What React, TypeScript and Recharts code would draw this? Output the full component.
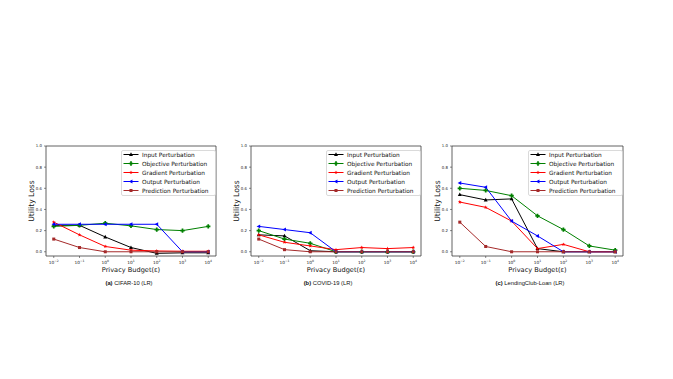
import React from "react";
import { LineChart, Line, XAxis, YAxis, ReferenceArea } from "recharts";

// privacy budgets on the x axis
const EPSILON = [0.01, 0.1, 1, 10, 100, 1000, 10000];
const Y_TICKS = [0, 0.2, 0.4, 0.6, 0.8, 1.0];
const X_DOMAIN = [0.005, 20000];
const Y_DOMAIN = [-0.04, 1.0];

// (a) CIFAR-10 (LR)
const cifarInput = [0.25, 0.25, 0.14, 0.04, -0.015, -0.01, -0.01];
const cifarObjective = [0.24, 0.25, 0.27, 0.245, 0.21, 0.2, 0.24];
const cifarGradient = [0.28, 0.16, 0.05, 0.015, 0.008, 0.005, 0.005];
const cifarOutput = [0.26, 0.26, 0.26, 0.26, 0.26, 0.0, 0.0];
const cifarPrediction = [0.12, 0.04, 0.0, 0.0, 0.0, 0.0, 0.0];

// (b) COVID-19 (LR)
const covidInput = [0.16, 0.15, 0.01, 0.0, 0.0, 0.0, 0.0];
const covidObjective = [0.2, 0.12, 0.08, 0.0, 0.0, 0.0, 0.0];
const covidGradient = [0.16, 0.09, 0.055, 0.02, 0.04, 0.03, 0.04];
const covidOutput = [0.24, 0.21, 0.18, 0.0, 0.0, 0.0, 0.0];
const covidPrediction = [0.12, 0.02, 0.0, 0.0, 0.0, 0.0, 0.0];

// (c) LendingClub-Loan (LR)
const loanInput = [0.54, 0.49, 0.5, 0.03, 0.0, 0.0, 0.0];
const loanObjective = [0.6, 0.58, 0.53, 0.34, 0.21, 0.055, 0.015];
const loanGradient = [0.47, 0.42, 0.29, 0.03, 0.07, 0.0, 0.0];
const loanOutput = [0.65, 0.61, 0.29, 0.15, 0.0, 0.0, 0.0];
const loanPrediction = [0.28, 0.05, 0.0, 0.0, 0.0, 0.0, 0.0];

const SERIES = [
  { key: "input", name: "Input Perturbation", color: "#000000", shape: "tri" },
  { key: "objective", name: "Objective Perturbation", color: "#008000", shape: "plus" },
  { key: "gradient", name: "Gradient Perturbation", color: "#ff0000", shape: "star" },
  { key: "output", name: "Output Perturbation", color: "#0000ff", shape: "left" },
  { key: "prediction", name: "Prediction Perturbation", color: "#a52a2a", shape: "square" },
];

function buildRows(input: number[], objective: number[], gradient: number[], output: number[], prediction: number[]) {
  return EPSILON.map((eps, i) => ({
    eps,
    input: input[i],
    objective: objective[i],
    gradient: gradient[i],
    output: output[i],
    prediction: prediction[i],
  }));
}

const FONT = "'DejaVu Sans', sans-serif";
const SPINE = "#3a3a3a";

function Marker({ cx, cy, shape, color, s = 3.6 }: any) {
  if (cx == null || cy == null) return null;
  if (shape === "tri") {
    const pts = `${cx},${cy - s * 0.6} ${cx - s * 0.55},${cy + s * 0.4} ${cx + s * 0.55},${cy + s * 0.4}`;
    return <polygon points={pts} fill={color} />;
  }
  if (shape === "left") {
    const pts = `${cx - s * 0.6},${cy} ${cx + s * 0.4},${cy - s * 0.55} ${cx + s * 0.4},${cy + s * 0.55}`;
    return <polygon points={pts} fill={color} />;
  }
  if (shape === "square") {
    const a = s * 0.42;
    return <rect x={cx - a} y={cy - a} width={a * 2} height={a * 2} fill={color} />;
  }
  if (shape === "plus") {
    const a = s * 0.6;
    const t = s * 0.24;
    const d = `M${cx - t},${cy - a}H${cx + t}V${cy - t}H${cx + a}V${cy + t}H${cx + t}V${cy + a}H${cx - t}V${cy + t}H${cx - a}V${cy - t}H${cx - t}Z`;
    return <path d={d} fill={color} />;
  }
  // star
  const pts: string[] = [];
  for (let k = 0; k < 10; k++) {
    const r = k % 2 === 0 ? s * 0.55 : s * 0.24;
    const ang = -Math.PI / 2 + (k * Math.PI) / 5;
    pts.push(`${cx + r * Math.cos(ang)},${cy + r * Math.sin(ang)}`);
  }
  return <polygon points={pts.join(" ")} fill={color} />;
}

function LogTick({ x, y, payload }: any) {
  const exp = Math.round(Math.log10(payload.value));
  const label = exp < 0 ? "\u2212" + -exp : String(exp);
  return (
    <text x={x} y={y + 3.6} textAnchor="middle" fontSize={4.3} fill="#222" fontFamily={FONT}>
      <tspan>10</tspan>
      <tspan dy={-1.7} fontSize={3.1}>{label}</tspan>
    </text>
  );
}

function LegendBox({ left, top }: { left: number; top: number }) {
  return (
    <svg width={95} height={46} style={{ position: "absolute", left, top, overflow: "visible" }}>
      <rect x={0.5} y={0.5} width={94} height={45} rx={1.5} fill="#fff" fillOpacity={0.85} stroke="#d0d0d0" strokeWidth={0.8} />
      {SERIES.map((s, i) => {
        const cy = 4.5 + i * 9;
        return (
          <g key={s.key}>
            <line x1={2.5} x2={17.5} y1={cy} y2={cy} stroke={s.color} strokeWidth={1} />
            <Marker cx={10} cy={cy} shape={s.shape} color={s.color} />
            <text x={21} y={cy + 2} fontSize={5.8} fontFamily={FONT} fill="#111">
              {s.name}
            </text>
          </g>
        );
      })}
    </svg>
  );
}

function Panel({ rows, px, py, pw, ph, tag, title, captionX }: any) {
  // margins: left 14 + y axis 16 = 30, top 10, right 10, bottom 16 + x axis 14 = 30
  const W = pw + 40;
  const H = ph + 40;
  return (
    <>
      <div style={{ position: "absolute", left: px - 30, top: py - 10 }}>
        <LineChart width={W} height={H} data={rows} margin={{ top: 10, right: 10, left: 14, bottom: 16 }}>
          <XAxis
            dataKey="eps"
            type="number"
            scale="log"
            domain={X_DOMAIN}
            allowDataOverflow
            ticks={EPSILON}
            interval={0}
            height={14}
            tickSize={2}
            tick={<LogTick />}
            axisLine={false}
            tickLine={{ stroke: SPINE, strokeWidth: 0.6 }}
          />
          <YAxis
            type="number"
            domain={Y_DOMAIN}
            allowDataOverflow
            ticks={Y_TICKS}
            interval={0}
            width={16}
            tickSize={2}
            tickFormatter={(v: number) => v.toFixed(1)}
            tick={{ fontSize: 3.9, fill: "#222", fontFamily: FONT }}
            axisLine={false}
            tickLine={{ stroke: SPINE, strokeWidth: 0.6 }}
          />
          {SERIES.map((s) => (
            <Line
              key={s.key}
              dataKey={s.key}
              type="linear"
              stroke={s.color}
              strokeWidth={1}
              isAnimationActive={false}
              dot={(p: any) => <Marker key={`${s.key}-${p.index}`} cx={p.cx} cy={p.cy} shape={s.shape} color={s.color} />}
              activeDot={false}
            />
          ))}
          <ReferenceArea
            x1={X_DOMAIN[0]}
            x2={X_DOMAIN[1]}
            y1={Y_DOMAIN[0]}
            y2={Y_DOMAIN[1]}
            fill="none"
            fillOpacity={0}
            stroke={SPINE}
            strokeWidth={0.8}
            ifOverflow="visible"
          />
        </LineChart>
      </div>
      <div
        style={{
          position: "absolute",
          left: px - 14 - 40,
          top: py + ph / 2 - 6,
          width: 80,
          height: 12,
          lineHeight: "12px",
          textAlign: "center",
          transform: "rotate(-90deg)",
          fontFamily: FONT,
          fontSize: 7.6,
          color: "#111",
          whiteSpace: "nowrap",
        }}
      >
        Utility Loss
      </div>
      <div
        style={{
          position: "absolute",
          left: px + pw / 2 - 50,
          top: py + ph + 10,
          width: 100,
          textAlign: "center",
          fontFamily: FONT,
          fontSize: 6.6,
          color: "#111",
          whiteSpace: "nowrap",
        }}
      >
        Privacy Budget(ε)
      </div>
      <div
        style={{
          position: "absolute",
          left: captionX - 60,
          top: 280,
          width: 120,
          textAlign: "center",
          fontFamily: "'Liberation Sans', Arial, sans-serif",
          fontSize: 5.8,
          color: "#111",
          whiteSpace: "nowrap",
        }}
      >
        <b>{tag}</b> {title}
      </div>
      <LegendBox left={px + pw - 95} top={py + 4} />
    </>
  );
}

export default function App() {
  const cifarRows = buildRows(cifarInput, cifarObjective, cifarGradient, cifarOutput, cifarPrediction);
  const covidRows = buildRows(covidInput, covidObjective, covidGradient, covidOutput, covidPrediction);
  const loanRows = buildRows(loanInput, loanObjective, loanGradient, loanOutput, loanPrediction);
  return (
    <div
      style={{
        position: "absolute",
        left: 0,
        top: 0,
        width: 673,
        height: 379,
        background: "#fff",
        overflow: "hidden",
      }}
    >
      <Panel rows={cifarRows} px={46} py={146} pw={170} ph={110} tag="(a)" title="CIFAR-10 (LR)" captionX={129} />
      <Panel rows={covidRows} px={251} py={146} pw={170} ph={110} tag="(b)" title="COVID-19 (LR)" captionX={328} />
      <Panel rows={loanRows} px={452} py={146} pw={171} ph={110} tag="(c)" title="LendingClub-Loan (LR)" captionX={530} />
    </div>
  );
}
